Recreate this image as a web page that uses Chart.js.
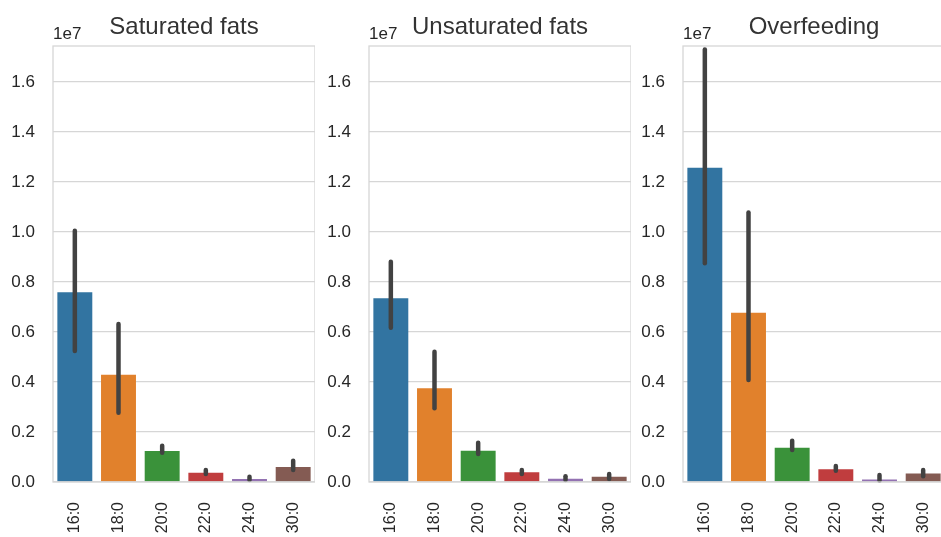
<!DOCTYPE html>
<html>
<head>
<meta charset="utf-8">
<script src="https://cdn.jsdelivr.net/npm/chart.js@4"></script>
<style>
  html, body { margin: 0; padding: 0; background: #fff; overflow: hidden; }
  .panel { position: absolute; top: 0; width: 315px; height: 537px; }
</style>
</head>
<body>
<div class="panel" style="left:0px"><canvas id="c0" width="315" height="537"></canvas></div>
<div class="panel" style="left:316px"><canvas id="c1" width="315" height="537"></canvas></div>
<div class="panel" style="left:630px"><canvas id="c2" width="315" height="537"></canvas></div>
<script>
// categories and colours
const categories = ['16:0', '18:0', '20:0', '22:0', '24:0', '30:0'];
const barColors = ['#3274a1', '#e1812c', '#3a923a', '#c03d3e', '#9372b2', '#845b53'];
const titles = ['Saturated fats', 'Unsaturated fats', 'Overfeeding'];

// bar heights (means) and error bar ends
const satMean = [7590000, 4290000, 1240000, 370000, 120000, 600000];
const satLow = [5240000, 2770000, 1170000, 320000, 80000, 480000];
const satHigh = [10050000, 6320000, 1450000, 480000, 210000, 850000];

const unsatMean = [7350000, 3750000, 1250000, 390000, 130000, 210000];
const unsatLow = [6170000, 2950000, 1120000, 320000, 80000, 120000];
const unsatHigh = [8810000, 5210000, 1570000, 480000, 230000, 320000];

const overMean = [12570000, 6770000, 1370000, 510000, 100000, 340000];
const overLow = [8750000, 4080000, 1280000, 450000, 60000, 230000];
const overHigh = [17300000, 10780000, 1650000, 640000, 280000, 480000];

// y axis
const yMax = 17440000;
const yTicks = [0, 2000000, 4000000, 6000000, 8000000, 10000000, 12000000, 14000000, 16000000];

const FONT = "'Liberation Sans', Arial, sans-serif";

// error bars, frame, title and the 1e7 offset label
const panelDecor = {
    id: 'panelDecor',
    afterDatasetsDraw(chart, args, opts) {
        const ctx = chart.ctx;
        const meta = chart.getDatasetMeta(0);
        const y = chart.scales.y;
        ctx.save();
        ctx.strokeStyle = '#424242';
        ctx.lineWidth = 4.5;
        ctx.lineCap = 'round';
        meta.data.forEach((bar, i) => {
            ctx.beginPath();
            ctx.moveTo(bar.x, y.getPixelForValue(opts.low[i]));
            ctx.lineTo(bar.x, y.getPixelForValue(opts.high[i]));
            ctx.stroke();
        });
        ctx.restore();
    },
    afterDraw(chart, args, opts) {
        const ctx = chart.ctx;
        const a = chart.chartArea;
        ctx.save();
        ctx.strokeStyle = '#d6d6d6';
        ctx.lineWidth = 1.3;
        ctx.strokeRect(a.left, a.top, a.right - a.left, a.bottom - a.top);
        ctx.fillStyle = '#333333';
        ctx.font = '24px ' + FONT;
        ctx.textAlign = 'center';
        ctx.textBaseline = 'alphabetic';
        ctx.fillText(opts.title, (a.left + a.right) / 2, 34);
        ctx.fillStyle = '#262626';
        ctx.font = '17px ' + FONT;
        ctx.textAlign = 'left';
        ctx.fillText('1e7', a.left, 39);
        ctx.restore();
    }
};

function makePanel(id, title, means, low, high) {
    const ctx = document.getElementById(id).getContext('2d');
    return new Chart(ctx, {
        type: 'bar',
        data: {
            labels: categories,
            datasets: [{
                data: means,
                backgroundColor: barColors,
                borderWidth: 0,
                categoryPercentage: 1.0,
                barPercentage: 0.8
            }]
        },
        options: {
            responsive: false,
            animation: false,
            layout: { padding: { top: 46, right: 0, bottom: 0, left: 0 } },
            plugins: {
                legend: { display: false },
                tooltip: { enabled: false },
                panelDecor: { title: title, low: low, high: high }
            },
            scales: {
                x: {
                    grid: { display: false },
                    border: { display: false },
                    ticks: {
                        autoSkip: false,
                        minRotation: 90,
                        maxRotation: 90,
                        padding: 12,
                        color: '#262626',
                        font: { family: FONT, size: 16 }
                    },
                    afterFit: (scale) => {
                        scale.height = 55;
                        scale.paddingLeft = 0;
                        scale.paddingRight = 0;
                    }
                },
                y: {
                    min: 0,
                    max: yMax,
                    bounds: 'data',
                    grid: { color: '#d6d6d6', lineWidth: 1.3, drawTicks: false },
                    border: { display: false },
                    afterBuildTicks: (scale) => {
                        scale.ticks = yTicks.map((v) => ({ value: v }));
                    },
                    ticks: {
                        padding: 18,
                        color: '#262626',
                        font: { family: FONT, size: 17 },
                        callback: (v) => (v / 1e7).toFixed(1)
                    },
                    afterFit: (scale) => {
                        scale.width = 53;
                        scale.paddingTop = 0;
                        scale.paddingBottom = 0;
                    }
                }
            }
        },
        plugins: [panelDecor]
    });
}

makePanel('c0', titles[0], satMean, satLow, satHigh);
makePanel('c1', titles[1], unsatMean, unsatLow, unsatHigh);
makePanel('c2', titles[2], overMean, overLow, overHigh);
</script>
</body>
</html>
